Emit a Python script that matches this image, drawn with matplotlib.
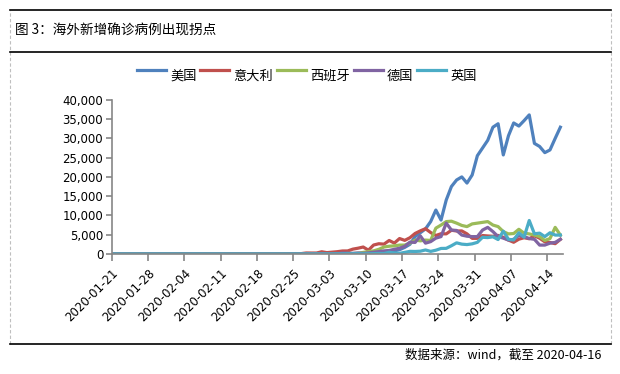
import pandas as pd
import matplotlib
matplotlib.use('Agg')
import matplotlib.pyplot as plt
import matplotlib.dates as mdates
from matplotlib.lines import Line2D
from matplotlib.ticker import FuncFormatter

plt.rcParams['font.family'] = ['Noto Sans CJK SC', 'DejaVu Sans']

dates = pd.date_range('2020-01-21', '2020-04-16', freq='D')

# daily new cases, one row per week starting 01-21 (last row: 04-14..04-16)
usa = [1, 0, 0, 1, 0, 3, 0,
       0, 0, 0, 1, 1, 1, 3,
       0, 1, 0, 0, 0, 0, 0,
       1, 1, 1, 0, 0, 0, 0,
       0, 0, 0, 2, 0, 0, 18,
       0, 6, 1, 2, 8, 10, 20,
       25, 35, 70, 60, 130, 120, 110,
       300, 350, 400, 500, 650, 800, 1100,
       1700, 2500, 4500, 5500, 6500, 8400, 11400,
       8800, 14000, 17500, 19200, 20000, 18400, 20500,
       25500, 27500, 29500, 32900, 33800, 25700, 30700,
       34000, 33200, 34600, 36100, 28700, 27900, 26300,
       27000, 30000, 32900]
italy = [0, 0, 0, 0, 0, 0, 0,
         0, 0, 0, 2, 0, 0, 0,
         0, 0, 1, 0, 0, 0, 0,
         0, 0, 0, 0, 0, 0, 0,
         0, 0, 0, 17, 62, 73, 77,
         93, 78, 250, 238, 240, 566, 342,
         466, 587, 769, 778, 1247, 1492, 1797,
         977, 2313, 2651, 2547, 3497, 2823, 4000,
         3526, 4207, 5322, 5986, 6557, 5560, 4789,
         5249, 5210, 6153, 5959, 5974, 5217, 4050,
         4053, 4782, 4668, 4585, 4805, 4316, 3599,
         3039, 3836, 4204, 3951, 4694, 4092, 3153,
         2972, 2667, 3786]
spain = [0, 0, 0, 0, 0, 0, 0,
         0, 0, 0, 0, 1, 0, 0,
         0, 0, 0, 0, 0, 1, 0,
         0, 0, 0, 0, 0, 0, 0,
         0, 0, 0, 0, 0, 0, 1,
         5, 2, 5, 20, 13, 39, 36,
         45, 57, 37, 141, 100, 173, 400,
         600, 800, 1200, 1800, 2000, 2100, 2300,
         2300, 2800, 3600, 3400, 3600, 3500, 6700,
         7500, 8400, 8500, 8000, 7400, 7100, 7800,
         8000, 8200, 8400, 7500, 7100, 5800, 5200,
         5300, 6400, 5400, 5200, 4900, 4500, 3500,
         4000, 6900, 4900]
germany = [0, 0, 0, 0, 0, 0, 0,
           1, 3, 0, 1, 3, 0, 2,
           2, 0, 0, 1, 0, 0, 0,
           2, 0, 0, 0, 0, 0, 0,
           0, 0, 0, 0, 0, 0, 0,
           1, 10, 30, 20, 13, 57, 29,
           37, 66, 220, 188, 129, 241, 136,
           281, 451, 600, 800, 900, 1210, 1477,
           1985, 3070, 2993, 4700, 2800, 3200, 4100,
           4500, 8000, 6200, 6100, 4900, 4600, 4500,
           4500, 6200, 6900, 5800, 4500, 4100, 3600,
           3800, 4800, 4500, 4000, 3800, 2300, 2300,
           2800, 3000, 3800]
uk = [0, 0, 0, 0, 0, 0, 0,
      0, 0, 0, 2, 0, 0, 0,
      0, 0, 1, 0, 0, 1, 4,
      0, 0, 0, 0, 0, 0, 0,
      0, 0, 0, 0, 0, 0, 0,
      4, 0, 2, 3, 3, 13, 4,
      11, 34, 29, 46, 46, 65, 50,
      52, 83, 134, 117, 433, 251, 152,
      407, 676, 643, 714, 1035, 665, 967,
      1427, 1452, 2129, 2885, 2546, 2433, 2619,
      3009, 4324, 4244, 4450, 3735, 5903, 3802,
      3634, 5491, 4344, 8681, 5233, 5400, 4500,
      5500, 4900, 4900]

names = ['美国', '意大利', '西班牙', '德国', '英国']
colors = ['#4F81BD', '#C0504D', '#9BBB59', '#8064A2', '#4BACC6']
series = [usa, italy, spain, germany, uk]

fig = plt.figure(figsize=(6.2, 3.74), dpi=100)
ax = fig.add_axes([0.180, 0.321, 0.728, 0.412])

# points sit in the middle of each day, like an Excel date axis
xs = dates + pd.Timedelta(hours=12)
for vals, name, c in zip(series, names, colors):
    ax.plot(xs, vals, color=c, lw=2.3, label=name, solid_joinstyle='round')

ax.set_xlim(pd.Timestamp('2020-01-21'), pd.Timestamp('2020-04-17'))
ax.set_ylim(0, 40000)
ax.set_yticks(range(0, 40001, 5000))
ax.yaxis.set_major_formatter(FuncFormatter(lambda v, p: '{:,.0f}'.format(v)))
ax.set_xticks(pd.date_range('2020-01-21', '2020-04-14', freq='7D'))
ax.xaxis.set_major_formatter(mdates.DateFormatter('%Y-%m-%d'))

gray = '#868686'
for s in ['top', 'right']:
    ax.spines[s].set_visible(False)
for s in ['left', 'bottom']:
    ax.spines[s].set_color(gray)
    ax.spines[s].set_linewidth(1.2)
ax.tick_params(axis='y', colors=gray, length=4, width=1.2, labelcolor='black',
               labelsize=8.5, pad=2)
ax.tick_params(axis='x', colors=gray, length=5, width=1.2, labelcolor='black',
               labelsize=8.5, pad=4)
for lab in ax.get_yticklabels() + ax.get_xticklabels():
    lab.set_fontfamily('DejaVu Sans')
for lab in ax.get_xticklabels():
    lab.set_rotation(45)
    lab.set_ha('right')
    lab.set_va('top')
    lab.set_rotation_mode('anchor')

leg = fig.legend(loc='center', bbox_to_anchor=(0.495, 0.81), ncol=5, frameon=False,
                 fontsize=9.5, handlelength=2.2, handletextpad=0.3, columnspacing=0.3,
                 borderaxespad=0)
for t in leg.get_texts():
    t.set_va('center_baseline')

# frame around the chart
x0, x1 = 10 / 620, 611 / 620
ytop, ytitle, ybot = 1 - 10 / 374, 1 - 52 / 374, 1 - 344 / 374
fig.add_artist(Line2D([x0, x0], [ybot, ytop], color='#bfbfbf', lw=0.8, ls=(0, (3, 2))))
fig.add_artist(Line2D([x1, x1], [ybot, ytop], color='#bfbfbf', lw=0.8, ls=(0, (3, 2))))
fig.add_artist(Line2D([x0, x1], [ytop, ytop], color='black', lw=1.2))
fig.add_artist(Line2D([x0, x1], [ytitle, ytitle], color='black', lw=1.2))
fig.add_artist(Line2D([x0, x1], [ybot, ybot], color='black', lw=1.2))

fig.text(15 / 620, 1 - 31 / 374, '图 3：海外新增确诊病例出现拐点', fontsize=9.8,
         ha='left', va='center')
fig.text(601 / 620, 1 - 355 / 374, '数据来源：wind，截至 2020-04-16', fontsize=9,
         ha='right', va='center')

fig.savefig('out.png', dpi=100)
